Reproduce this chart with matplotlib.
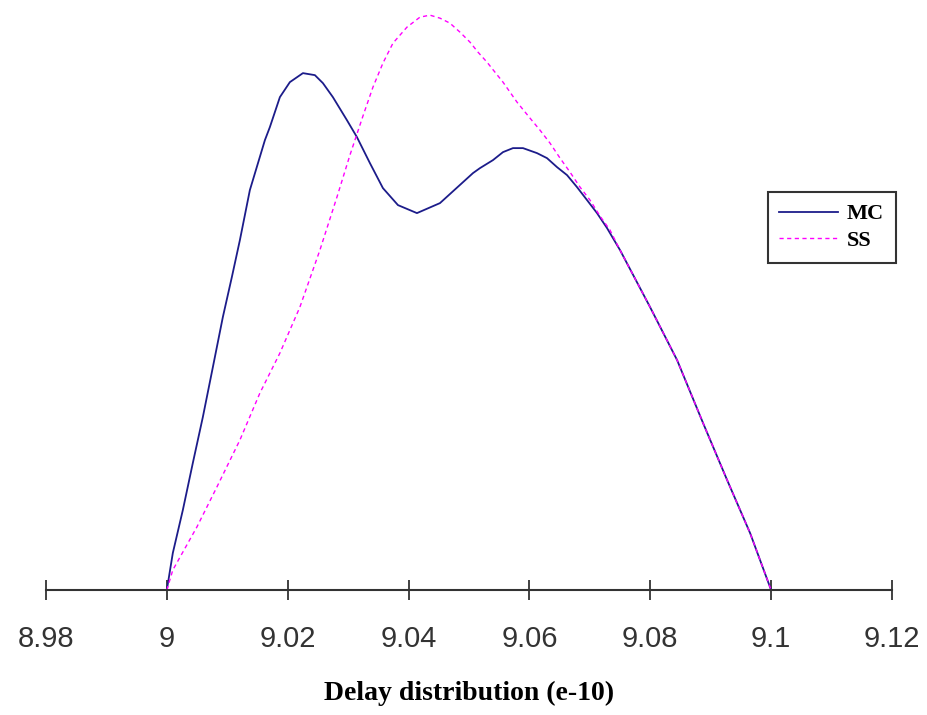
import matplotlib.pyplot as plt

# Delay values (x, units of e-10) and relative density (arbitrary units)
mc_x = [9.0, 9.00099, 9.00265, 9.0043, 9.00596, 9.00762, 9.00927, 9.01076, 9.01209,
        9.01374, 9.01623, 9.01705, 9.01871, 9.02036, 9.02252, 9.0245, 9.02583,
        9.02748, 9.0298, 9.03146, 9.03361, 9.03576, 9.03825, 9.04139, 9.0452,
        9.05066, 9.05182, 9.05397, 9.05563, 9.05728, 9.05894, 9.06126, 9.06291,
        9.06457, 9.06623, 9.06788, 9.06954, 9.07119, 9.07285, 9.075, 9.07997,
        9.08444, 9.08874, 9.09272, 9.09652, 9.1]
mc_y = [0.0, 0.37, 0.80, 1.27, 1.73, 2.23, 2.73, 3.13, 3.50,
        4.00, 4.50, 4.63, 4.93, 5.08, 5.17, 5.15, 5.07,
        4.93, 4.70, 4.53, 4.27, 4.02, 3.85, 3.77, 3.87,
        4.17, 4.22, 4.30, 4.38, 4.42, 4.42, 4.37, 4.32,
        4.23, 4.15, 4.03, 3.90, 3.77, 3.62, 3.40, 2.83,
        2.30, 1.67, 1.10, 0.57, 0.0]

ss_x = [9.0, 9.00099, 9.00497, 9.00828, 9.01209, 9.0154, 9.01871, 9.02202, 9.02533,
        9.02815, 9.0303, 9.03245, 9.03411, 9.03576, 9.03742, 9.03974, 9.04189,
        9.04354, 9.0452, 9.04685, 9.04851, 9.05017, 9.05149, 9.05298, 9.0543,
        9.05563, 9.05795, 9.0601, 9.06175, 9.06341, 9.06507, 9.06672, 9.06838,
        9.07003, 9.07169, 9.07334, 9.075, 9.07997, 9.08444, 9.08874, 9.09272,
        9.09652, 9.1]
ss_y = [0.0, 0.20, 0.63, 1.03, 1.50, 1.97, 2.37, 2.83, 3.40,
        3.93, 4.35, 4.74, 5.03, 5.27, 5.47, 5.63, 5.73,
        5.75, 5.72, 5.67, 5.58, 5.48, 5.38, 5.28, 5.18,
        5.08, 4.88, 4.72, 4.60, 4.47, 4.32, 4.18, 4.03,
        3.90, 3.74, 3.60, 3.40, 2.83, 2.30, 1.67, 1.10,
        0.57, 0.0]

ticks = [8.98, 9.0, 9.02, 9.04, 9.06, 9.08, 9.1, 9.12]
tick_labels = ['8.98', '9', '9.02', '9.04', '9.06', '9.08', '9.1', '9.12']

fig = plt.figure(figsize=(9.27, 7.15), dpi=100)
ax = fig.add_axes([0.0496, 0.1748, 0.9126, 0.811])

ax.plot(mc_x, mc_y, color='#1c1c8a', linewidth=1.3, label='MC',
        solid_joinstyle='round')
ax.plot(ss_x, ss_y, color='#ff00ff', linewidth=1.0, linestyle=(0, (3, 2.5)), label='SS')

ax.set_xlim(8.98, 9.12)
ax.set_ylim(0, 5.8)

for side in ['left', 'right', 'top']:
    ax.spines[side].set_visible(False)
ax.spines['bottom'].set_color('#333333')
ax.spines['bottom'].set_linewidth(1.5)

ax.set_yticks([])
ax.set_xticks(ticks)
ax.set_xticklabels(tick_labels, family='Liberation Sans', fontsize=21, color='#333333')
ax.tick_params(axis='x', direction='inout', length=15, width=1.3, color='#333333', pad=17.5)

ax.set_xlabel('Delay distribution (e-10)', family='Liberation Serif', fontweight='bold',
              fontsize=20, labelpad=20)

leg = ax.legend(loc='upper left', bbox_to_anchor=(0.853, 0.686), fancybox=False,
                edgecolor='#333333', framealpha=1, borderaxespad=0,
                prop={'family': 'Liberation Serif', 'weight': 'bold', 'size': 16},
                handlelength=2.65, handletextpad=0.4, labelspacing=0.28,
                borderpad=0.52)
leg.get_frame().set_linewidth(1.5)

fig.savefig('out.png', dpi=100)
